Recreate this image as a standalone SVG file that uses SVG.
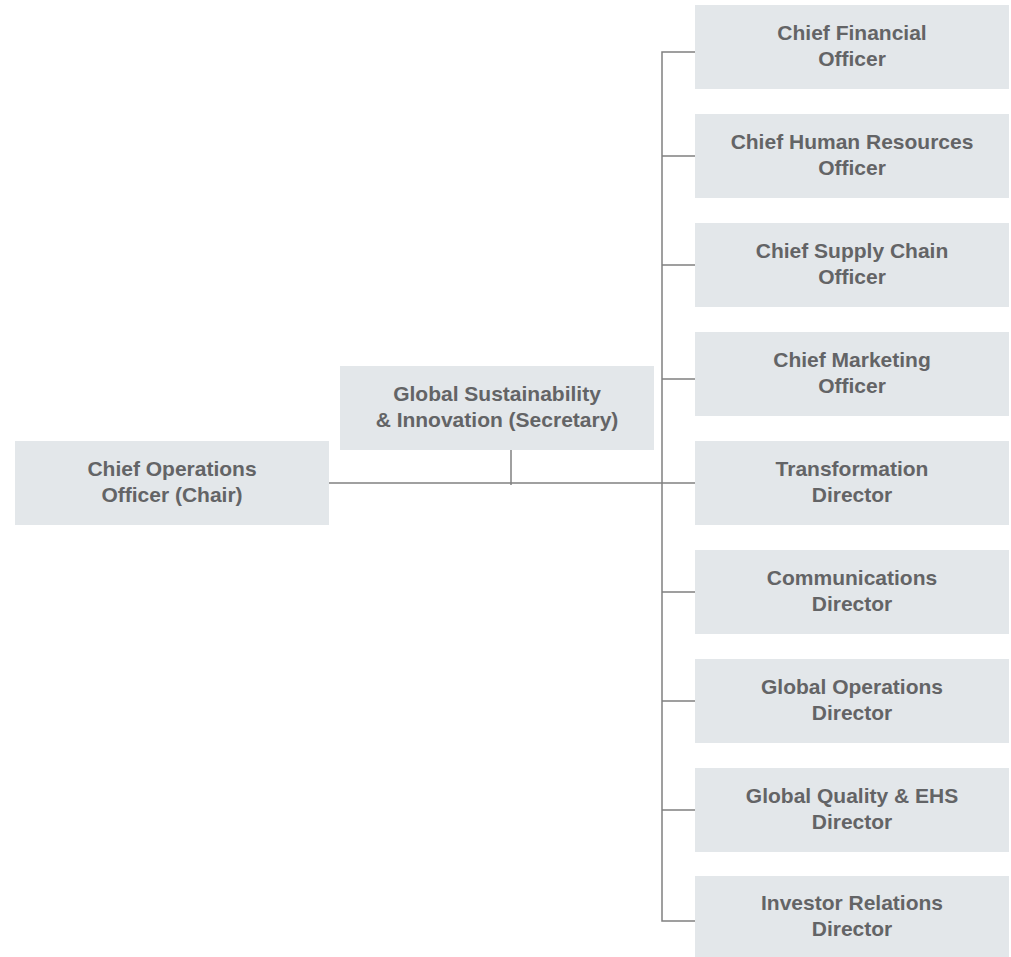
<svg xmlns="http://www.w3.org/2000/svg" width="1011" height="957" viewBox="0 0 1011 957">
<style>
.box{fill:#e3e7ea}
.t{font-family:"Liberation Sans",Arial,sans-serif;font-weight:bold;font-size:21px;fill:#636466;text-anchor:middle}
.c{stroke:#808080;stroke-width:1.5;fill:none}
</style>
<g id="connectors">
<path class="c" d="M329 483H695"/>
<path class="c" d="M511 450V485"/>
<path class="c" d="M697 52H662V921H697"/>
<path class="c" d="M662 156H697M662 265H697M662 379H697M662 592H697M662 701H697M662 810H697"/>
</g>
<g id="coo"><rect class="box" x="15" y="441" width="314" height="84"/><text class="t" x="172" y="476">Chief Operations</text><text class="t" x="172" y="502">Officer (Chair)</text></g>
<g id="gsi"><rect class="box" x="340" y="366" width="314" height="84"/><text class="t" x="497" y="401">Global Sustainability</text><text class="t" x="497" y="427">&amp; Innovation (Secretary)</text></g>
<g id="cfo"><rect class="box" x="695" y="5" width="314" height="84"/><text class="t" x="852" y="40">Chief Financial</text><text class="t" x="852" y="66">Officer</text></g>
<g id="chro"><rect class="box" x="695" y="114" width="314" height="84"/><text class="t" x="852" y="149">Chief Human Resources</text><text class="t" x="852" y="175">Officer</text></g>
<g id="csco"><rect class="box" x="695" y="223" width="314" height="84"/><text class="t" x="852" y="258">Chief Supply Chain</text><text class="t" x="852" y="284">Officer</text></g>
<g id="cmo"><rect class="box" x="695" y="332" width="314" height="84"/><text class="t" x="852" y="367">Chief Marketing</text><text class="t" x="852" y="393">Officer</text></g>
<g id="td"><rect class="box" x="695" y="441" width="314" height="84"/><text class="t" x="852" y="476">Transformation</text><text class="t" x="852" y="502">Director</text></g>
<g id="cd"><rect class="box" x="695" y="550" width="314" height="84"/><text class="t" x="852" y="585">Communications</text><text class="t" x="852" y="611">Director</text></g>
<g id="god"><rect class="box" x="695" y="659" width="314" height="84"/><text class="t" x="852" y="694">Global Operations</text><text class="t" x="852" y="720">Director</text></g>
<g id="gqd"><rect class="box" x="695" y="768" width="314" height="84"/><text class="t" x="852" y="803">Global Quality &amp; EHS</text><text class="t" x="852" y="829">Director</text></g>
<g id="ird"><rect class="box" x="695" y="876" width="314" height="82"/><text class="t" x="852" y="910">Investor Relations</text><text class="t" x="852" y="936">Director</text></g>
</svg>
